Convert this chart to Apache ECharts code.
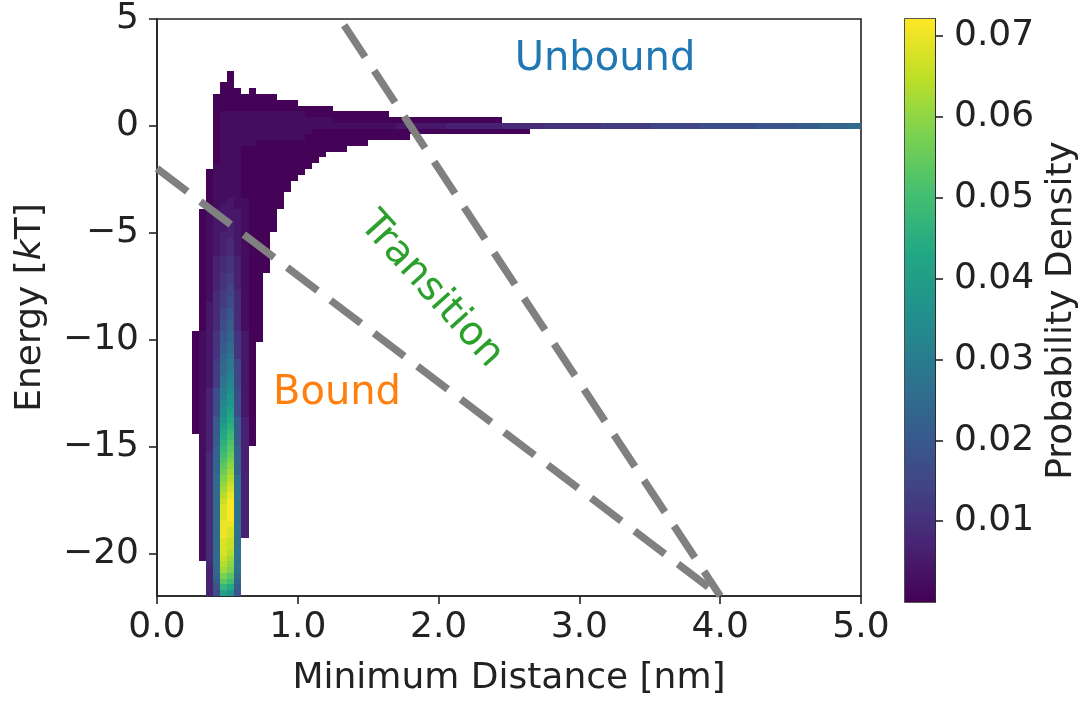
<!DOCTYPE html>
<html>
<head>
<meta charset="utf-8">
<script src="https://cdn.jsdelivr.net/npm/echarts@6/dist/echarts.min.js"></script>
<style>
  html, body { margin: 0; padding: 0; background: #fff; }
  #chart { width: 1085px; height: 702px; }
</style>
</head>
<body>
<div id="chart"></div>
<script>
// 2D histogram definition: 100 x 100 bins over distance and energy
const DIST_RANGE = [0, 5];        // nm
const ENERGY_RANGE = [-22, 5];    // kT
const N_BINS = 100;

// Each character is a density level 0-35 ('0'-'9', 'a'-'z');
// density = (level + 0.2) * LEVEL_STEP. '.' is an empty bin.
// Rows go from the lowest energy bin upward, characters along the distance bins.
const LEVEL_STEP = 0.00205;
const DENSITY_ROWS = [
  ".......38ki9",
  ".......39nla",
  ".......3aqob",
  ".......3bsqc",
  ".......3cusd",
  ".......4cvtd",
  "......14cwud",
  "......14cxvd",
  "......14cxwd",
  "......14cxwd",
  "......14cyxd3",
  "......14cyxd3",
  "......14cyyd3",
  "......14cxzd3",
  "......14cxzd3",
  "......14cxzd3",
  "......14cwzd3",
  "......14cvyd3",
  "......14cuxd3",
  "......14ctwd3",
  "......14csvd3",
  "......14brub3",
  "......14bqtb3",
  "......14bpsb3",
  "......14borb3",
  "......13bnqb3",
  "......13ampa30",
  "......13aloa30",
  ".....013akna30",
  ".....013ajma30",
  ".....013aila30",
  ".....0138hk820",
  ".....0138hj820",
  ".....0138gi820",
  ".....0138fi820",
  ".....0138eh820",
  ".....0126eg720",
  ".....0126dg720",
  ".....0126cf720",
  ".....0126ce720",
  ".....0126be720",
  ".....0125bd520",
  ".....0125ac520",
  ".....0125ac520",
  ".....01259b5200",
  ".....01259b5200",
  "......0248a4100",
  "......0248a4100",
  "......024794100",
  "......024794100",
  "......024684100",
  "......014684100",
  "......014674100",
  "......013573100",
  "......013563100",
  "......013563100",
  "......0134531000",
  "......0134531000",
  "......0134531000",
  "......0123421000",
  "......0123421000",
  "......0123421000",
  "......0123321000",
  "......01223210000",
  "......01223210000",
  "......01222210000",
  "......01222210000",
  ".......01221100000",
  ".......01121100000",
  ".......01111000000",
  ".......011110000000",
  ".......011110000000",
  ".......0111100000000",
  ".......01111000000000",
  "........11110000000000",
  "........011100000000000",
  "........0111000000000000",
  "........0111000000000000000",
  "........" + "011111000000000000" + "0000",
  "........" + "011111111111100000" + "0000000000",
  "........" + "011111111111110000000000000000000000000000000",
  "........" + "01111111" + "111111111111111111" + "2222222" + "33333333" + "444444" +
    "555555" + "55666666" + "67777777" + "88888888" + "999999aa" + "abbbbcc",
  "........" + "01111111111111111000000000000000000000000",
  "........" + "011111111111100000" + "0000000",
  "........" + "00000000000000000",
  "........" + "000000000000",
  "........" + "000000000",
  ".........000.0",
  ".........00",
  "..........0",
  "..........0"
];

// Axis ticks
const X_TICKS = [0, 1, 2, 3, 4, 5];
const Y_TICKS = [-20, -15, -10, -5, 0, 5];
const CBAR_RANGE = [0, 0.0721];
const CBAR_TICKS = [0.01, 0.02, 0.03, 0.04, 0.05, 0.06, 0.07];

// Region boundaries, [distance nm, energy kT]
const UNBOUND_EDGE = [[1.3, 5], [4.0, -22]];
const BOUND_EDGE = [[0, -2], [4.0, -22]];

const VIRIDIS = ['#440154', '#482475', '#414487', '#355f8d', '#2a788e', '#21918c',
                 '#22a884', '#44bf70', '#7ad151', '#bddf26', '#fde725'];

const FONT = 'DejaVu Sans';
const INK = '#222';

const binW = (DIST_RANGE[1] - DIST_RANGE[0]) / N_BINS;
const binH = (ENERGY_RANGE[1] - ENERGY_RANGE[0]) / N_BINS;

// Flatten the level table into [distance, energy, density, column, row] cells (bin centres)
const cells = [];
DENSITY_ROWS.forEach(function (row, k) {
  for (let i = 0; i < row.length; i++) {
    const ch = row[i];
    if (ch === '.') continue;
    const level = parseInt(ch, 36);
    cells.push([
      DIST_RANGE[0] + (i + 0.5) * binW,
      ENERGY_RANGE[0] + (k + 0.5) * binH,
      +((level + 0.2) * LEVEL_STEP).toFixed(5),
      i, k
    ]);
  }
});

// Bin edges are taken from the bin indices so neighbouring cells share exact pixel edges
function renderCell(params, api) {
  const i = api.value(3), k = api.value(4);
  const a = api.coord([DIST_RANGE[0] + i * binW, ENERGY_RANGE[0] + (k + 1) * binH]);
  const b = api.coord([DIST_RANGE[0] + (i + 1) * binW, ENERGY_RANGE[0] + k * binH]);
  const x0 = Math.round(a[0]), y0 = Math.round(a[1]);
  const x1 = Math.round(b[0]), y1 = Math.round(b[1]);
  return {
    type: 'rect',
    shape: { x: x0, y: y0, width: x1 - x0, height: y1 - y0 },
    style: { fill: api.visual('color') }
  };
}

function renderColorbar(params, api) {
  const a = api.coord([0, CBAR_RANGE[1]]);
  const b = api.coord([1, CBAR_RANGE[0]]);
  const stops = VIRIDIS.map(function (c, i) { return { offset: i / (VIRIDIS.length - 1), color: c }; });
  return {
    type: 'rect',
    shape: { x: a[0], y: a[1], width: b[0] - a[0], height: b[1] - a[1] },
    style: { fill: new echarts.graphic.LinearGradient(0, 1, 0, 0, stops) }
  };
}

function minusFmt(v) { return v < 0 ? '\u2212' + Math.abs(v) : String(v); }

const axisLineStyle = { color: INK, width: 1.6 };
const tickStyle = { color: INK, width: 1.6 };
const labelStyle = { fontFamily: FONT, fontSize: 36, color: INK };

const chart = echarts.init(document.getElementById('chart'), null, { renderer: 'canvas' });

chart.setOption({
  animation: false,
  backgroundColor: '#fff',
  textStyle: { fontFamily: FONT },
  grid: [
    { left: 157, top: 19, width: 704, height: 583, show: true, borderColor: INK, borderWidth: 1.6, backgroundColor: 'transparent' },
    { left: 905, top: 19, width: 30, height: 583, show: true, borderColor: INK, borderWidth: 1.6, backgroundColor: 'transparent' }
  ],
  xAxis: [
    {
      gridIndex: 0, type: 'value', min: DIST_RANGE[0], max: DIST_RANGE[1],
      axisLine: { show: true, onZero: false, lineStyle: axisLineStyle },
      axisTick: { show: true, length: 8, lineStyle: tickStyle, customValues: X_TICKS },
      axisLabel: Object.assign({ margin: 14, customValues: X_TICKS, formatter: function (v) { return v.toFixed(1); } }, labelStyle),
      splitLine: { show: false },
      name: 'Minimum Distance [nm]', nameLocation: 'middle', nameGap: 65,
      nameTextStyle: labelStyle
    },
    { gridIndex: 1, type: 'value', min: 0, max: 1, show: false }
  ],
  yAxis: [
    {
      gridIndex: 0, type: 'value', min: ENERGY_RANGE[0], max: ENERGY_RANGE[1],
      axisLine: { show: true, onZero: false, lineStyle: axisLineStyle },
      axisTick: { show: true, length: 8, lineStyle: tickStyle, customValues: Y_TICKS },
      axisLabel: Object.assign({ margin: 18, customValues: Y_TICKS, formatter: minusFmt }, labelStyle),
      splitLine: { show: false },
      name: '{n|Energy [}{i|k}{n|T]}', nameLocation: 'middle', nameGap: 108, nameRotate: 90,
      nameTextStyle: {
        rich: {
          n: { fontFamily: FONT, fontSize: 36, color: INK },
          i: { fontFamily: FONT, fontSize: 36, color: INK, fontStyle: 'italic' }
        }
      }
    },
    {
      gridIndex: 1, type: 'value', position: 'right', min: CBAR_RANGE[0], max: CBAR_RANGE[1],
      axisLine: { show: true, onZero: false, lineStyle: axisLineStyle },
      axisTick: { show: true, length: 8, lineStyle: tickStyle, customValues: CBAR_TICKS },
      axisLabel: Object.assign({ margin: 19, customValues: CBAR_TICKS, formatter: function (v) { return v.toFixed(2); } }, labelStyle),
      splitLine: { show: false },
      name: 'Probability Density', nameLocation: 'middle', nameGap: 109, nameRotate: 90,
      nameTextStyle: labelStyle
    }
  ],
  visualMap: {
    type: 'continuous', show: false, seriesIndex: 0, dimension: 2,
    min: CBAR_RANGE[0], max: CBAR_RANGE[1],
    inRange: { color: VIRIDIS }
  },
  series: [
    {
      type: 'custom', name: 'density', xAxisIndex: 0, yAxisIndex: 0,
      renderItem: renderCell, data: cells, encode: { x: 0, y: 1 }, silent: true, z: 1
    },
    {
      type: 'custom', name: 'colorbar', xAxisIndex: 1, yAxisIndex: 1,
      renderItem: renderColorbar, data: [[0, 0]], silent: true, z: 1
    },
    {
      type: 'line', xAxisIndex: 0, yAxisIndex: 0, data: UNBOUND_EDGE, symbol: 'none',
      lineStyle: { color: '#808080', width: 7.5, type: [38, 16.5], dashOffset: 47, cap: 'butt' },
      clip: true, silent: true, z: 5
    },
    {
      type: 'line', xAxisIndex: 0, yAxisIndex: 0, data: BOUND_EDGE, symbol: 'none',
      lineStyle: { color: '#808080', width: 7.5, type: [38, 16.5], dashOffset: 0, cap: 'butt' },
      clip: true, silent: true, z: 5
    }
  ],
  graphic: [
    { type: 'text', x: 605, y: 60, z: 10,
      style: { text: 'Unbound', fill: '#1f77b4', fontFamily: FONT, fontSize: 40, align: 'center', verticalAlign: 'middle' } },
    { type: 'text', x: 431, y: 290, rotation: -48 * Math.PI / 180, z: 10,
      style: { text: 'Transition', fill: '#2ca02c', fontFamily: FONT, fontSize: 40, align: 'center', verticalAlign: 'middle' } },
    { type: 'text', x: 337, y: 394, z: 10,
      style: { text: 'Bound', fill: '#ff7f0e', fontFamily: FONT, fontSize: 40, align: 'center', verticalAlign: 'middle' } }
  ]
});
</script>
</body>
</html>
